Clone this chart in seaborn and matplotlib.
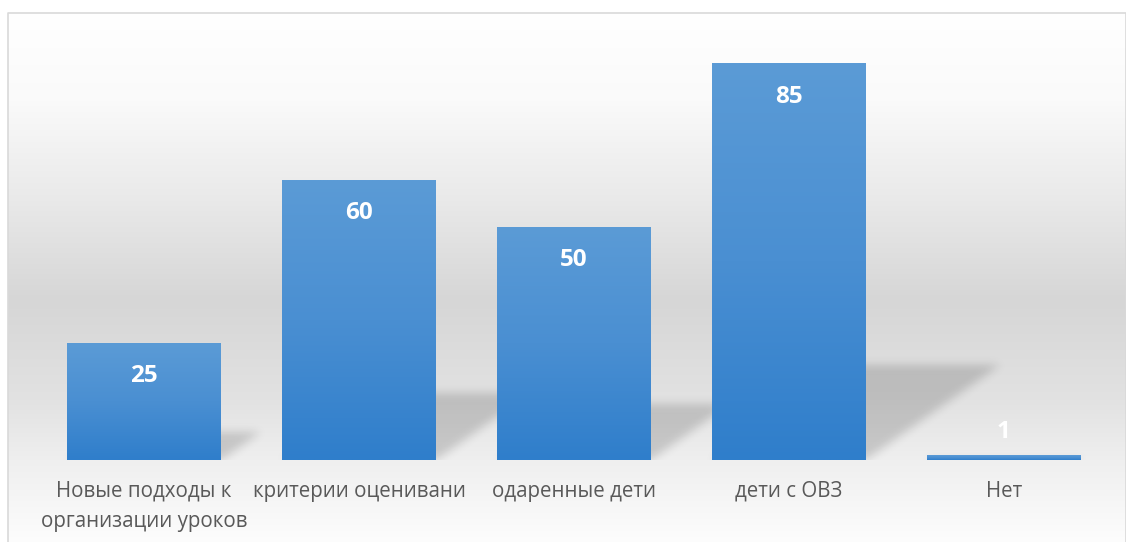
import numpy as np
import pandas as pd
import matplotlib
matplotlib.use("Agg")
import matplotlib.pyplot as plt
import seaborn as sns
from matplotlib.colors import LinearSegmentedColormap

categories = ["Новые подходы к\nорганизации уроков", "критерии оценивани",
              "одаренные дети", "дети с ОВЗ", "Нет"]
values = [25, 60, 50, 85, 1]

W, H, DPI = 1126, 542, 100
sns.set_theme(style="white")
plt.rcParams['font.family'] = ['Open Sans', 'DejaVu Sans']

fig = plt.figure(figsize=(W / DPI, H / DPI), dpi=DPI)

# background gradient (chart area)
bg = fig.add_axes([0, 0, 1, 1], zorder=-10)
bg.set_axis_off()
ys = np.arange(H)
stops_y = [0, 12, 100, 200, 300, 400, 460, 542]
stops_v = [255, 255, 250, 233, 214, 226, 239, 253]
col = np.interp(ys, stops_y, stops_v) / 255.0
img = np.repeat(col[:, None], W, axis=1)
img[:, :8] = 1.0
img[:12, :] = 1.0
bg.imshow(np.dstack([img, img, img]), extent=[0, W, H, 0], aspect="auto",
          interpolation="bilinear")
bg.set_xlim(0, W)
bg.set_ylim(H, 0)
bg.plot([7.5, 7.5, 1125.5, 1125.5], [H + 5, 12.5, 12.5, H + 5], color="#D9D9D9", lw=1.2)

# main axes
ax_left, ax_right = 36.5, 1111.5
base_px, top_px = 460, 40.6
ymax = 90
ax = fig.add_axes([ax_left / W, (H - base_px) / H, (ax_right - ax_left) / W,
                   (base_px - top_px) / H])
ax.set_facecolor("none")

bar_w = 154 / 215
df = pd.DataFrame({"cat": categories, "val": values})
sns.barplot(data=df, x="cat", y="val", width=bar_w, color="#5B9BD5", ax=ax,
            saturation=1, zorder=3)
ax.set_xlim(-0.5, len(categories) - 0.5)
ax.set_ylim(0, ymax)

# shadows (perspective, sheared, blurred)
nx, ny = int(ax_right - ax_left), int(base_px - top_px)
gx = np.linspace(-0.5, len(categories) - 0.5, nx)
gy = np.linspace(0, ymax, ny)
GX, GY = np.meshgrid(gx, gy)
mask = np.zeros_like(GX)
px_per_unit = (base_px - top_px) / ymax
shear = 0.34 * px_per_unit / 215 / 0.24  # category units per data unit of height
for i, v in enumerate(values):
    hs = 0.24 * v
    xl, xr = i - bar_w / 2, i + bar_w / 2
    inside = (GY <= hs) & (GX >= xl + GY * shear) & (GX <= xr + GY * shear)
    mask[inside] = 1.0

def blur(a, sigma):
    r = int(3 * sigma)
    k = np.exp(-0.5 * (np.arange(-r, r + 1) / sigma) ** 2)
    k /= k.sum()
    a = np.apply_along_axis(lambda m: np.convolve(m, k, mode="same"), 0, a)
    a = np.apply_along_axis(lambda m: np.convolve(m, k, mode="same"), 1, a)
    return a

mask = blur(mask, 4.5)
rgba = np.zeros((ny, nx, 4))
rgba[..., 3] = mask * 0.16
ax.imshow(rgba, extent=[-0.5, len(categories) - 0.5, 0, ymax], origin="lower",
          aspect="auto", zorder=2, interpolation="bilinear")

# bar gradients
cmap = LinearSegmentedColormap.from_list("bar", ["#2F7ECB", "#4A8FD2", "#5B9BD6"])
grad = np.linspace(0, 1, 256)[:, None]
for p in ax.patches:
    x0, y0 = p.get_x(), p.get_y()
    w, h = p.get_width(), p.get_height()
    p.set_facecolor("none")
    p.set_edgecolor("none")
    ax.imshow(grad, cmap=cmap, extent=[x0, x0 + w, y0, y0 + h], origin="lower",
              aspect="auto", zorder=3, interpolation="bilinear")

# value labels
for i, v in enumerate(values):
    h_px = v * px_per_unit
    off = -33 if h_px > 40 else 23
    ax.annotate(str(v), (i, v), xytext=(0, off), textcoords="offset pixels",
                ha="center", va="center", color="white", fontsize=17.5,
                fontweight="bold", zorder=5)

ax.set_xlim(-0.5, len(categories) - 0.5)
ax.set_ylim(0, ymax)
ax.set_xlabel("")
ax.set_ylabel("")
ax.set_yticks([])
ax.tick_params(axis="x", length=0, pad=15, labelsize=14.8, labelcolor="#595959")
for t in ax.get_xticklabels():
    t.set_linespacing(1.55)
for s in ax.spines.values():
    s.set_visible(False)

fig.savefig("out.png", dpi=DPI)
